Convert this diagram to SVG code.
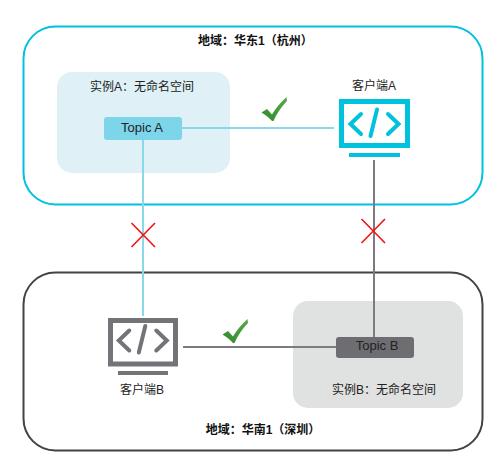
<svg xmlns="http://www.w3.org/2000/svg" width="495" height="468" viewBox="0 0 495 468">
<style>
text{font-family:"Liberation Sans","Noto Sans CJK SC",sans-serif;font-size:12px;fill:#222;text-anchor:middle}
.t{font-weight:bold;fill:#111}
.tp{font-size:13px}
.lc{stroke:#8ad9ea;stroke-width:2;fill:none}
.lg{stroke:#7b7b80;stroke-width:2;fill:none}
.x{stroke:#f01414;stroke-width:1.6;fill:none}
.gl{stroke-width:4;stroke-linecap:round;stroke-linejoin:miter;fill:none}
</style>
<defs>
<linearGradient id="g" x1="0" y1="1" x2="1" y2="0"><stop offset="0" stop-color="#2f8a2c"/><stop offset="1" stop-color="#5aaa48"/></linearGradient>
<path id="chk" fill="url(#g)" d="M0.500 15.500L6 12 11 17.500C14.500 11.500 19.500 5.500 25.500 0L26 4C20 10 15.500 17 12.500 24L11 24C8 20.500 4 17.500 0.500 15.500Z"/>
<g id="code"><path class="gl" d="M21.500 12L11 22 21.500 32M48.500 12L59 22 48.500 32M37.500 7.500L31 34"/></g>
</defs>
<g id="region-a"><rect x="23.500" y="26.500" width="459" height="178" rx="32" fill="#fff" stroke="#00c1de" stroke-width="2"/><text class="t" x="255.300" y="45">地域&#xFF1A;华东1&#xFF08;杭州&#xFF09;</text></g>
<g id="region-b"><rect x="23.500" y="272.500" width="459" height="178" rx="32" fill="#fff" stroke="#3f4447" stroke-width="2"/><text class="t" x="263" y="434">地域&#xFF1A;华南1&#xFF08;深圳&#xFF09;</text></g>
<g id="instance-a"><rect x="57" y="72" width="173" height="101" rx="15" fill="#dff1f7"/><text x="142" y="91">实例A&#xFF1A;无命名空间</text></g>
<g id="instance-b"><rect x="293" y="301" width="170" height="107" rx="15" fill="#e0e1e1"/><text x="384" y="394">实例B&#xFF1A;无命名空间</text></g>
<g id="connectors">
<path class="lc" d="M182 128H334M143 140V316"/>
<path class="lg" d="M374 160V337M183 347H336"/>
</g>
<g id="topic-a"><rect x="104" y="117" width="78" height="23" rx="3" fill="#7dd5ea"/><text class="tp" x="142" y="132">Topic A</text></g>
<g id="topic-b"><rect x="336" y="337" width="78" height="21" rx="3" fill="#6d6d72"/><text class="tp" x="377" y="350">Topic B</text></g>
<g id="client-a"><text x="374" y="90">客户端A</text><rect x="341.500" y="101.500" width="66" height="44" fill="none" stroke="#00c1de" stroke-width="5"/><rect x="349" y="153" width="51" height="4" fill="#00c1de"/><use href="#code" x="339.500" y="102" stroke="#00c1de"/></g>
<g id="client-b"><text x="142" y="394">客户端B</text><rect x="110.500" y="320.500" width="65" height="43.500" fill="none" stroke="#737478" stroke-width="5"/><rect x="118" y="371" width="50" height="4" fill="#737478"/><use href="#code" x="107.800" y="318.500" stroke="#737478"/></g>
<g id="check-a"><use href="#chk" x="261" y="97"/></g>
<g id="check-b"><use href="#chk" x="222" y="319"/></g>
<g id="cross-a"><path class="x" d="M131.500 223L155 247M155 223L131.500 247"/></g>
<g id="cross-b"><path class="x" d="M361.500 219L385 243M385 219L361.500 243"/></g>
</svg>
